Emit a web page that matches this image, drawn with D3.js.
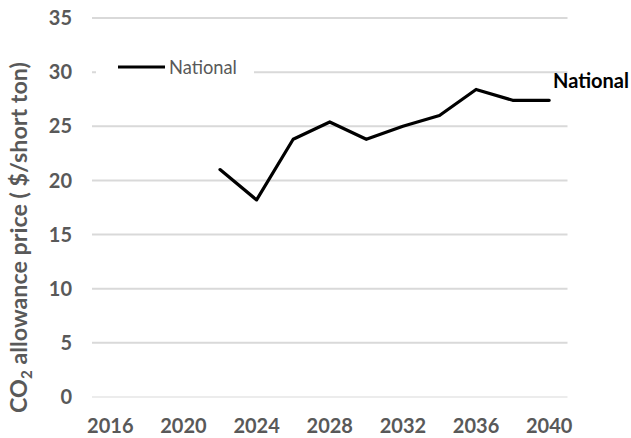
<!DOCTYPE html>
<html>
<head>
<meta charset="utf-8">
<script src="https://cdn.jsdelivr.net/npm/d3@7"></script>
<style>
  html, body { margin: 0; padding: 0; background: #fff; }
  svg { display: block; }
  text { font-family: Lato, "Open Sans", sans-serif; }
</style>
</head>
<body>
<svg id="chart" width="631" height="438"></svg>
<script>
// ---- data ----
const years = [2022, 2024, 2026, 2028, 2030, 2032, 2034, 2036, 2038, 2040];
const nationalPrice = [21.0, 18.2, 23.8, 25.4, 23.8, 25.0, 26.0, 28.4, 27.4, 27.4];
const xTickYears = [2016, 2020, 2024, 2028, 2032, 2036, 2040];
const yTicks = [0, 5, 10, 15, 20, 25, 30, 35];
const seriesName = "National";
const yTitleMain = "CO";
const yTitleSub = "2";
const yTitleRest = " allowance price ( $/short ton)";

// ---- layout ----
const svg = d3.select("#chart");
const x = d3.scaleLinear().domain([2015, 2041]).range([92, 567.5]);
const y = d3.scaleLinear().domain([0, 35]).range([397, 18]);

// scale a text element's font size so that it reaches a target width
function fitWidth(sel, target) {
  const fs = parseFloat(sel.attr("font-size"));
  const w = sel.node().getComputedTextLength();
  if (w > 0) sel.attr("font-size", (fs * target / w).toFixed(2));
}

// gridlines
svg.append("g").selectAll("line").data(yTicks).join("line")
  .attr("x1", x.range()[0]).attr("x2", x.range()[1])
  .attr("y1", d => y(d)).attr("y2", d => y(d))
  .attr("stroke", "#d9d9d9")
  .attr("stroke-width", d => d === 0 ? 1 : 2);

// y tick labels
svg.append("g").selectAll("text").data(yTicks).join("text")
  .attr("x", 72).attr("y", d => y(d))
  .attr("dy", "0.36em")
  .attr("text-anchor", "end")
  .attr("font-size", 20).attr("font-weight", 700)
  .attr("fill", "#595959")
  .text(d => d);

// x tick labels
svg.append("g").selectAll("text").data(xTickYears).join("text")
  .attr("x", d => x(d)).attr("y", 433)
  .attr("text-anchor", "middle")
  .attr("font-size", 20).attr("font-weight", 700)
  .attr("fill", "#595959")
  .text(d => d);

// y axis title
const yt = svg.append("text")
  .attr("transform", "translate(27,237.5) rotate(-90)")
  .attr("text-anchor", "middle")
  .attr("font-size", 20).attr("font-weight", 700)
  .attr("fill", "#595959");
yt.append("tspan").text(yTitleMain);
yt.append("tspan").attr("dy", 5).attr("font-size", "0.65em").text(yTitleSub);
yt.append("tspan").attr("dy", -5).text(yTitleRest);
fitWidth(yt, 351);

// legend (white box masking gridline)
const lg = svg.append("g");
lg.append("rect").attr("x", 96).attr("y", 56).attr("width", 158).attr("height", 24).attr("fill", "#fff");
lg.append("line").attr("x1", 118).attr("x2", 165).attr("y1", 67).attr("y2", 67)
  .attr("stroke", "#000").attr("stroke-width", 3.2);
const lt = lg.append("text").attr("x", 169).attr("y", 74)
  .attr("font-size", 18).attr("fill", "#595959").text(seriesName);
fitWidth(lt, 68);

// series line
const pts = years.map((yr, i) => [yr, nationalPrice[i]]);
svg.append("path").datum(pts)
  .attr("fill", "none").attr("stroke", "#000").attr("stroke-width", 3.2)
  .attr("stroke-linejoin", "round").attr("stroke-linecap", "round")
  .attr("d", d3.line().x(d => x(d[0])).y(d => y(d[1])));

// end label
const el = svg.append("text").attr("x", 553).attr("y", 88)
  .attr("font-size", 19.5).attr("font-weight", 700).attr("fill", "#000")
  .text(seriesName);
fitWidth(el, 76);
</script>
</body>
</html>
